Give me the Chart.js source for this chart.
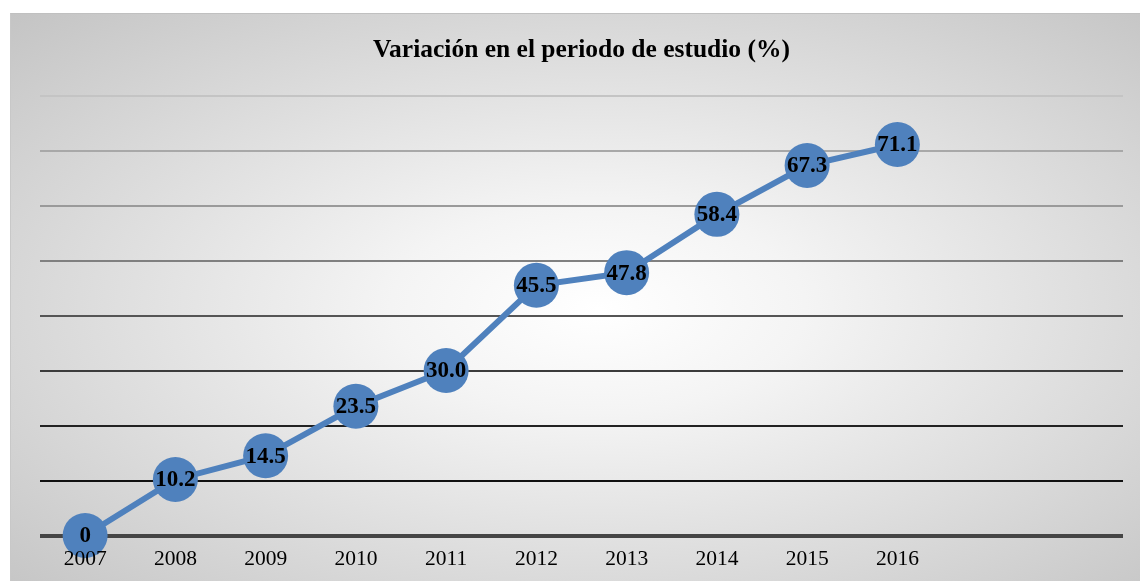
<!DOCTYPE html>
<html>
<head>
<meta charset="utf-8">
<script src="https://cdn.jsdelivr.net/npm/chart.js@4.4.1/dist/chart.umd.min.js"></script>
<style>
  html, body { margin: 0; padding: 0; background: #ffffff; }
  #box {
    position: absolute; left: 10px; top: 13px; width: 1130px; height: 568px;
    border-top: 1px solid #c0c0c0; border-left: 1px solid #c8c8c8;
    box-sizing: border-box;
    background: radial-gradient(ellipse farthest-corner at 52% 52%, #ffffff 0%, #f4f4f4 25%, #c4c4c4 100%);
  }
  #wrap { position: absolute; left: 0; top: 0; width: 1129px; height: 567px; }
</style>
</head>
<body>
<div id="box"><div id="wrap"><canvas id="c"></canvas></div></div>
<script>
const categories = ['2007','2008','2009','2010','2011','2012','2013','2014','2015','2016','',''];
const values = [0, 10.2, 14.5, 23.5, 30.0, 45.5, 47.8, 58.4, 67.3, 71.1, null, null];
const valueLabels = ['0','10.2','14.5','23.5','30.0','45.5','47.8','58.4','67.3','71.1','',''];
const chartTitle = 'Variación en el periodo de estudio (%)';

const gridColors = {0:'#454545',10:'#111111',20:'#222222',30:'#3c3c3c',40:'#555555',50:'#808080',60:'#9a9a9a',70:'#a8a8a8',80:'#c4c4c4'};

const pointLabels = {
  id: 'pointLabels',
  afterDatasetsDraw(chart) {
    const ctx = chart.ctx;
    const meta = chart.getDatasetMeta(0);
    ctx.save();
    ctx.font = 'bold 23px "Liberation Serif", "Times New Roman", serif';
    ctx.fillStyle = '#000';
    ctx.textAlign = 'center';
    ctx.textBaseline = 'middle';
    meta.data.forEach((pt, i) => {
      if (values[i] === null) return;
      ctx.fillText(valueLabels[i], pt.x, pt.y + 1);
    });
    ctx.restore();
  }
};

new Chart(document.getElementById('c'), {
  type: 'line',
  data: {
    labels: categories,
    datasets: [{
      data: values,
      borderColor: '#4F81BD',
      backgroundColor: '#4F81BD',
      borderWidth: 6,
      pointRadius: 22.5,
      pointHoverRadius: 22.5,
      pointBackgroundColor: '#4F81BD',
      pointBorderColor: '#4F81BD',
      pointBorderWidth: 0,
      tension: 0,
      clip: false
    }]
  },
  options: {
    responsive: true,
    maintainAspectRatio: false,
    animation: false,
    layout: { autoPadding: false, padding: { left: 29, right: 17, top: 0, bottom: -2 } },
    plugins: {
      legend: { display: false },
      tooltip: { enabled: false },
      title: {
        display: true,
        text: chartTitle,
        color: '#000',
        font: { family: '"Liberation Serif", "Times New Roman", serif', size: 25.5, weight: 'bold' },
        padding: { top: 21, bottom: 30 }
      }
    },
    scales: {
      x: {
        offset: true,
        grid: { display: false, drawTicks: false },
        border: { display: false },
        ticks: {
          z: 1,
          color: '#000',
          font: { family: '"Liberation Serif", "Times New Roman", serif', size: 21.5, lineHeight: 1 },
          padding: 13,
          maxRotation: 0,
          autoSkip: false
        }
      },
      y: {
        min: 0, max: 80,
        ticks: { display: false, stepSize: 10 },
        border: { display: false },
        grid: {
          drawTicks: false,
          color: (ctx) => gridColors[ctx.tick ? ctx.tick.value : 0] || '#888',
          lineWidth: (ctx) => (ctx.tick && ctx.tick.value === 0) ? 4 : 2
        }
      }
    }
  },
  plugins: [pointLabels]
});
</script>
</body>
</html>
